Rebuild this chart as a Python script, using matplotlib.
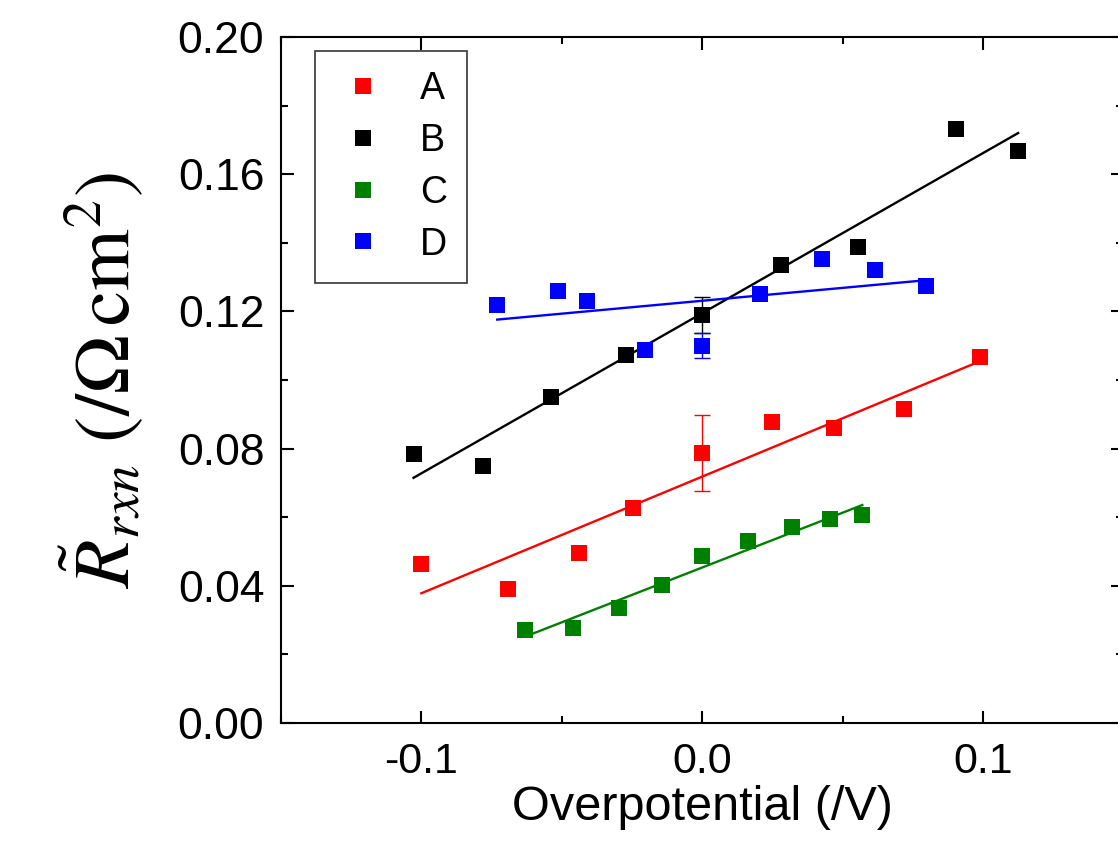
import numpy as np
import matplotlib
matplotlib.use("Agg")
import matplotlib.pyplot as plt
from matplotlib.ticker import MultipleLocator

plt.rcParams['font.family'] = ['Liberation Sans', 'DejaVu Sans']
plt.rcParams['mathtext.fontset'] = 'stix'

# overpotential (V) and resistance (Ohm cm^2)
X_A = [-0.100, -0.069, -0.0438, -0.0246, 0.0, 0.025, 0.047, 0.072, 0.099]
Y_A = [0.0464, 0.0390, 0.0496, 0.0627, 0.0787, 0.0878, 0.0860, 0.0915, 0.1067]
E_A = [0, 0, 0, 0, 0.0110, 0, 0, 0, 0]

X_B = [-0.1028, -0.078, -0.0537, -0.027, 0.0, 0.028, 0.0555, 0.0904, 0.1125]
Y_B = [0.0784, 0.0749, 0.0950, 0.1073, 0.1190, 0.1335, 0.1388, 0.1732, 0.1668]
E_B = [0, 0, 0, 0, 0.0052, 0, 0, 0, 0]

X_C = [-0.063, -0.0459, -0.0295, -0.0142, 0.0, 0.0164, 0.032, 0.0456, 0.057]
Y_C = [0.0271, 0.0277, 0.0335, 0.0402, 0.0487, 0.0531, 0.0571, 0.0595, 0.0606]
E_C = [0, 0, 0, 0, 0, 0, 0, 0, 0]

X_D = [-0.073, -0.0512, -0.041, -0.0203, 0.0, 0.0206, 0.0427, 0.0616, 0.0797]
Y_D = [0.1219, 0.1260, 0.1230, 0.1087, 0.1100, 0.1250, 0.1353, 0.1320, 0.1274]
E_D = [0, 0, 0, 0, 0.0037, 0, 0, 0, 0]

LABELS = ["A", "B", "C", "D"]
COLORS = ["#ff0000", "#000000", "#008000", "#0000ff"]

fig = plt.figure(figsize=(11.18, 8.52), dpi=100)
# right spine sits just past the image edge, as in the cropped original
ax = fig.add_axes([0.2513, 0.1514, 0.7536, 0.8052])

series = [(X_A, Y_A, E_A), (X_B, Y_B, E_B), (X_C, Y_C, E_C), (X_D, Y_D, E_D)]
for (xs, ys, es), lab, col in zip(series, LABELS, COLORS):
    xs, ys, es = np.array(xs), np.array(ys), np.array(es)
    k, b = np.polyfit(xs, ys, 1)
    xl = np.array([xs.min(), xs.max()])
    ax.plot(xl, k * xl + b, "-", color=col, lw=1.7, zorder=2)
    m = es > 0
    if m.any():
        ax.errorbar(xs[m], ys[m], yerr=es[m], fmt="none", ecolor=col,
                    elinewidth=1.0, capsize=6, capthick=1.0, zorder=2)
    ax.plot(xs, ys, "s", color=col, ms=11.5, mew=0, label=lab, zorder=3)

ax.set_xlim(-0.15, 0.15)
ax.set_ylim(0.0, 0.20)
ax.xaxis.set_major_locator(MultipleLocator(0.1))
ax.xaxis.set_minor_locator(MultipleLocator(0.05))
ax.yaxis.set_major_locator(MultipleLocator(0.04))
ax.yaxis.set_minor_locator(MultipleLocator(0.02))
ax.xaxis.set_major_formatter(matplotlib.ticker.FormatStrFormatter("%.1f"))
ax.yaxis.set_major_formatter(matplotlib.ticker.FormatStrFormatter("%.2f"))
ax.tick_params(which="both", direction="in", top=True, right=True, width=1.5)
ax.tick_params(which="major", length=9)
ax.tick_params(which="minor", length=5)
ax.tick_params(axis="x", labelsize=31, pad=14)
ax.tick_params(axis="y", labelsize=32, pad=12)
for s in ax.spines.values():
    s.set_linewidth(1.5)

ax.set_xlabel("Overpotential (/V)", fontsize=35, labelpad=2)
ax.set_ylabel(r"$\tilde{R}_{rxn}\ (/\Omega\,\mathrm{cm}^2)$", fontsize=57, labelpad=22)

leg = ax.legend(loc="upper left", bbox_to_anchor=(0.040, 0.98), borderaxespad=0,
                fontsize=27, numpoints=1, markerscale=1.0, handlelength=1.5,
                handletextpad=0.75, labelspacing=0.42, borderpad=0.55,
                fancybox=False, edgecolor="#333333", framealpha=1)
leg.get_frame().set_linewidth(1.2)

fig.savefig("out.png", dpi=100)
